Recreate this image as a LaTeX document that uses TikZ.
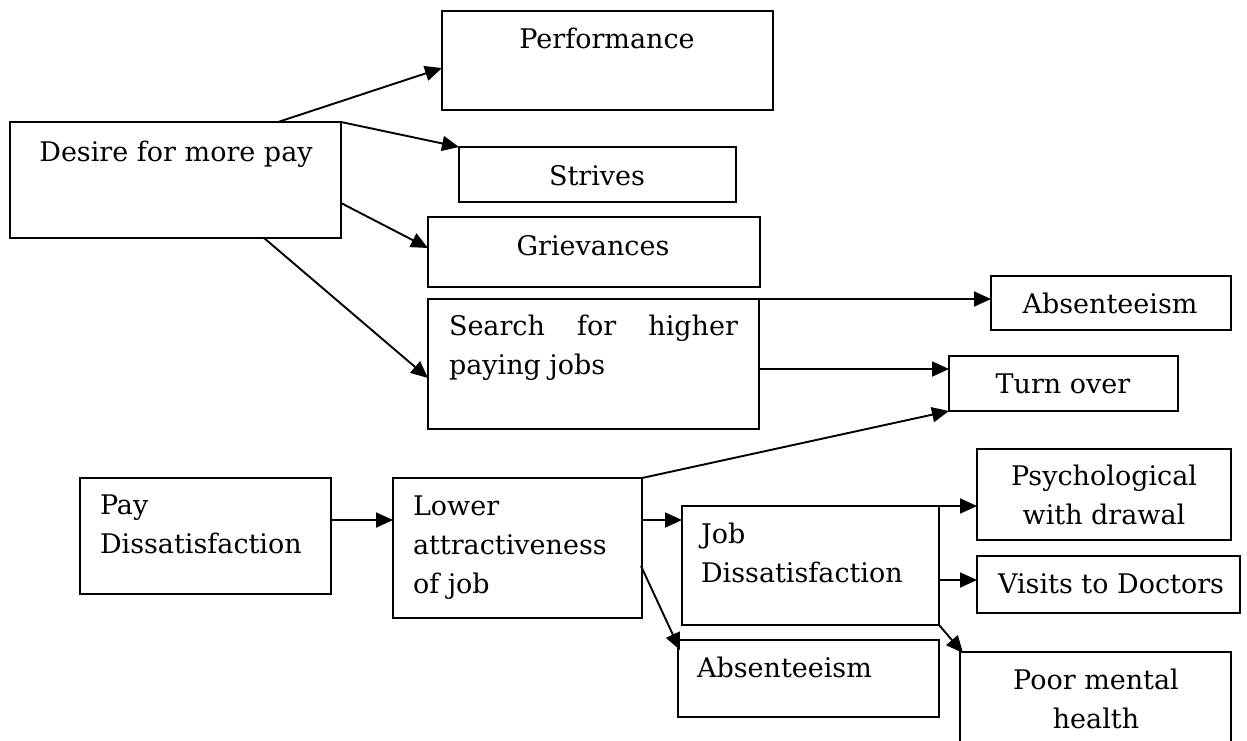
\documentclass[tikz,border=0pt]{standalone}
\usepackage{fontspec}
\setmainfont{DejaVu Serif}
\usetikzlibrary{arrows.meta,calc}
\begin{document}
\begin{tikzpicture}[x=1pt,y=-1pt,
  box/.style={draw, line width=2pt, inner sep=0pt, outer sep=0pt, anchor=north west},
  lbl/.style={inner sep=0pt, outer sep=0pt, font=\fontsize{27}{39}\selectfont},
  arr/.style={line width=1.9pt, -{Triangle[length=17pt,width=15pt]}}]
\useasboundingbox (0,0) rectangle (1247,740);
\clip (0,0) rectangle (1247,740);

% boxes
\node[box, minimum width=331pt, minimum height=116pt] (desire) at (10,122) {};
\node[box, minimum width=331pt, minimum height=99pt] (perf) at (442,11) {};
\node[box, minimum width=277pt, minimum height=55pt] (strives) at (459,147) {};
\node[box, minimum width=332pt, minimum height=70pt] (griev) at (428,217) {};
\node[box, minimum width=331pt, minimum height=130pt] (search) at (428,299) {};
\node[box, minimum width=240pt, minimum height=54pt] (absR) at (991,276) {};
\node[box, minimum width=229pt, minimum height=55pt] (turn) at (949,356) {};
\node[box, minimum width=251pt, minimum height=116pt] (pay) at (80,478) {};
\node[box, minimum width=249pt, minimum height=140pt] (lower) at (393,478) {};
\node[box, minimum width=257pt, minimum height=119pt] (job) at (682,506) {};
\node[box, minimum width=254pt, minimum height=91pt] (psych) at (977,449) {};
\node[box, minimum width=263pt, minimum height=57pt] (visits) at (977,556) {};
\node[box, minimum width=261pt, minimum height=77pt] (absB) at (678,640) {};
\node[box, minimum width=271pt, minimum height=110pt] (poor) at (960,652) {};

% texts
\node[lbl, anchor=base] (desireT) at (176,161) {Desire for more pay};
\node[lbl, anchor=base] (perfT) at (607,48) {Performance};
\node[lbl, anchor=base] (strivesT) at (597,185) {Strives};
\node[lbl, anchor=base] (grievT) at (593,255) {Grievances};
\node[lbl, anchor=base west] (searchT) at (449,335)
  {\parbox[t]{289pt}{\makebox[289pt][s]{Search\hfill for\hfill higher}\\paying jobs}};
\node[lbl, anchor=base] (absRT) at (1110,313) {Absenteeism};
\node[lbl, anchor=base] (turnT) at (1063,393) {Turn over};
\node[lbl, anchor=base west] (payT) at (100,514)
  {\parbox[t]{225pt}{Pay\\Dissatisfaction}};
\node[lbl, anchor=base west] (lowerT) at (413,515)
  {\parbox[t]{225pt}{Lower\\attractiveness\\of job}};
\node[lbl, anchor=base west] (jobT) at (701,543)
  {\parbox[t]{235pt}{Job\\Dissatisfaction}};
\node[lbl, anchor=base] (psychT) at (1104,485)
  {\parbox[t]{250pt}{\centering Psychological\\with drawal}};
\node[lbl, anchor=base] (visitsT) at (1111,593) {Visits to Doctors};
\node[lbl, anchor=base west] (absBT) at (697,677) {Absenteeism};
\node[lbl, anchor=base] (poorT) at (1096,689)
  {\parbox[t]{250pt}{\centering Poor mental\\health}};

% connectors
\draw[arr] ($(desire.north west)+(268,0)$) -- ($(perf.north west)+(0,57)$);
\draw[arr] (desire.north east) -- (strives.north west);
\draw[arr] ($(desire.north east)+(0,81)$) -- ($(griev.north west)+(0,31)$);
\draw[arr] ($(desire.south west)+(254,0)$) -- ($(search.north west)+(0,79)$);
\draw[arr] (search.north east) -- (search.north east -| absR.west);
\coordinate (s6) at ($(search.north east)+(0,70)$);
\draw[arr] (s6) -- (s6 -| turn.west);
\draw[arr] ($(pay.north east)+(0,42)$) -- ($(lower.north west)+(0,42)$);
\draw[arr] (lower.north east) -- (turn.south west);
\coordinate (l9) at ($(lower.north east)+(0,42)$);
\draw[arr] (l9) -- (l9 -| job.west);
\draw[arr] ($(lower.north east)+(-1,88)$) -- ($(absB.north west)+(2,10)$);
\draw[arr] (job.north east) -- (job.north east -| psych.west);
\coordinate (j12) at ($(job.north east)+(0,74)$);
\draw[arr] (j12) -- (j12 -| visits.west);
\draw[arr] (job.south east) -- ($(poor.north west)+(3,1)$);
\end{tikzpicture}
\end{document}
